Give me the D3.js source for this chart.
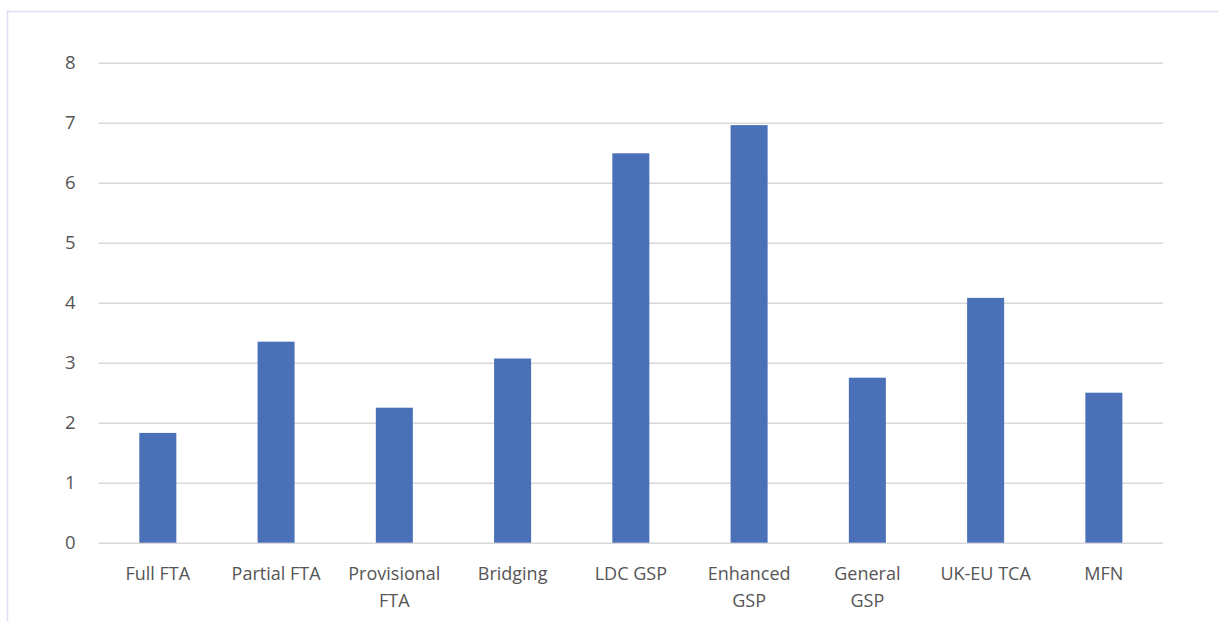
<!DOCTYPE html>
<html>
<head>
<meta charset="utf-8">
<script src="https://cdn.jsdelivr.net/npm/d3@7"></script>
<style>
  html, body { margin: 0; padding: 0; background: #fff; }
  svg { display: block; }
</style>
</head>
<body>
<svg id="chart" width="1218" height="621"></svg>
<script>
const categories = [
  "Full FTA",
  "Partial FTA",
  "Provisional FTA",
  "Bridging",
  "LDC GSP",
  "Enhanced GSP",
  "General GSP",
  "UK-EU TCA",
  "MFN",
];
const values = [1.83, 3.35, 2.25, 3.07, 6.49, 6.96, 2.75, 4.08, 2.5];
const yTicks = [0, 1, 2, 3, 4, 5, 6, 7, 8];

const svg = d3.select("#chart");
const font = "'Open Sans', 'Noto Sans', sans-serif";
const margin = { top: 62.7, right: 55, bottom: 78.3, left: 98.7 };
const width = 1218,
  height = 621;

// outer frame of the figure
svg
  .append("rect")
  .attr("x", 7.5)
  .attr("y", 11.5)
  .attr("width", 1240)
  .attr("height", 640)
  .attr("fill", "none")
  .attr("stroke", "#dcdcf3")
  .attr("stroke-width", 1.5);

const x = d3
  .scaleBand()
  .domain(categories)
  .range([margin.left, width - margin.right])
  .paddingInner(0.687)
  .paddingOuter(0.687 / 2);

const y = d3
  .scaleLinear()
  .domain([0, 8])
  .range([height - margin.bottom, margin.top]);

// gridlines + y labels
const yAxis = svg
  .append("g")
  .attr("transform", `translate(${margin.left},0)`)
  .call(
    d3
      .axisLeft(y)
      .tickValues(yTicks)
      .tickSize(-(width - margin.right - margin.left))
      .tickPadding(23),
  );
yAxis.select(".domain").remove();
yAxis.selectAll(".tick line").attr("stroke", "#d9d9d9").attr("stroke-width", 1.5);
yAxis
  .selectAll(".tick text")
  .attr("fill", "#555")
  .style("font-family", font)
  .style("font-size", "18.5px");

// bars
svg
  .append("g")
  .selectAll("rect")
  .data(values)
  .join("rect")
  .attr("x", (d, i) => x(categories[i]))
  .attr("y", (d) => y(d))
  .attr("width", x.bandwidth())
  .attr("height", (d) => y(0) - y(d))
  .attr("fill", "#4a70b8");

// x labels, wrapped like the spreadsheet does
const xLabels = svg
  .append("g")
  .selectAll("text")
  .data(categories)
  .join("text")
  .attr("text-anchor", "middle")
  .attr("fill", "#555")
  .style("font-family", font)
  .style("font-size", "18px")
  .attr("transform", (d) => `translate(${x(d) + x.bandwidth() / 2},580)`);

const maxW = 100;
xLabels.each(function (d) {
  const t = d3.select(this);
  const words = d.split(" ");
  let lines = [],
    line = [];
  const probe = t.append("tspan");
  words.forEach((w) => {
    const test = line.concat(w).join(" ");
    probe.text(test);
    if (line.length && probe.node().getComputedTextLength() > maxW) {
      lines.push(line.join(" "));
      line = [w];
    } else line.push(w);
  });
  lines.push(line.join(" "));
  probe.remove();
  t.selectAll("tspan")
    .data(lines)
    .join("tspan")
    .attr("x", 0)
    .attr("dy", (l, i) => (i ? 27 : 0))
    .text((l) => l);
});
</script>
</body>
</html>
